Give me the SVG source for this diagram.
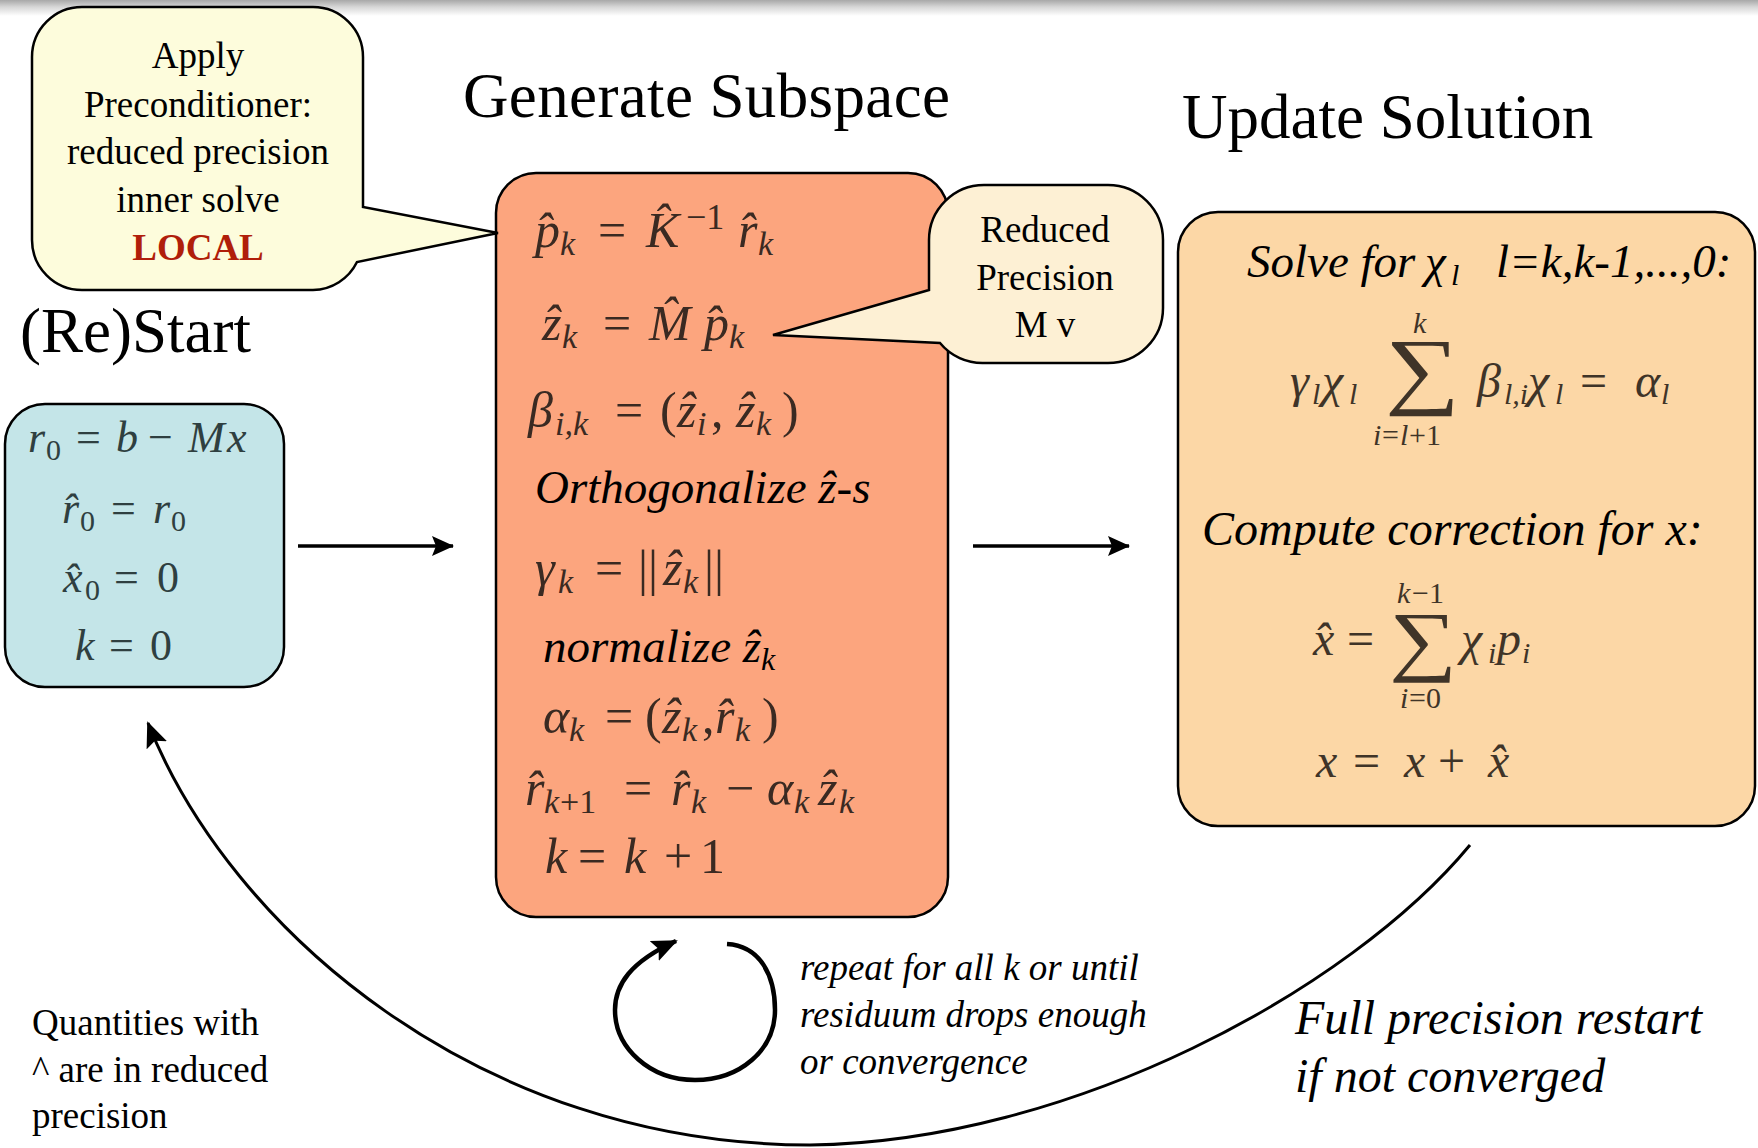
<svg xmlns="http://www.w3.org/2000/svg" width="1758" height="1148" viewBox="0 0 1758 1148">
<defs>
<linearGradient id="topbar" x1="0" y1="0" x2="0" y2="1">
<stop offset="0" stop-color="#a8a8a8"/>
<stop offset="0.45" stop-color="#d8d8d8"/>
<stop offset="1" stop-color="#ffffff"/>
</linearGradient>
<marker id="ah" viewBox="0 0 22 20" refX="21" refY="10" markerWidth="22" markerHeight="20" markerUnits="userSpaceOnUse" orient="auto">
<path d="M0,0 L22,10 L0,20 L4,10 Z" fill="#000"/>
</marker>
<marker id="ah2" viewBox="0 0 26 22" refX="24" refY="11" markerWidth="26" markerHeight="22" markerUnits="userSpaceOnUse" orient="auto">
<path d="M0,0 L26,11 L0,22 L5,11 Z" fill="#000"/>
</marker>
</defs>
<style>
.t{font-family:"Liberation Serif","Times New Roman",serif;fill:#000}
.title{font-size:63px}
.call{font-size:37px;text-anchor:middle}
.it{font-style:italic;font-size:47px}
.it48{font-style:italic;font-size:48px}
.note{font-size:37px}
.m{font-family:"Liberation Serif","Times New Roman",serif;font-style:italic;font-size:50px}
.mo{fill:#3a2a22}
.mb{fill:#2f3f40;font-size:44px}
.mr{fill:#3f3428;font-size:48px}
.n{font-style:normal}
.sb{font-size:34px}
.sm{font-size:30px}
.sig{font-family:"Liberation Serif","Times New Roman",serif;font-style:normal;fill:#3f3428}
.box{stroke:#000;stroke-width:2.5}
.conn{fill:none;stroke:#000}
</style>
<rect x="0" y="0" width="1758" height="1148" fill="#fff"/>
<rect x="0" y="0" width="1758" height="16" fill="url(#topbar)"/>

<g id="title-generate"><text class="t title" x="463" y="117" textLength="487" lengthAdjust="spacing">Generate Subspace</text></g>
<g id="title-update"><text class="t title" x="1182" y="138">Update Solution</text></g>
<g id="title-restart"><text class="t title" x="20" y="352">(Re)Start</text></g>

<g id="restart-box">
<rect class="box" x="5" y="404" width="279" height="283" rx="40" fill="#c4e5e8"/>
<text class="m mb"><tspan x="28" y="452">r</tspan><tspan class="n sm" x="46" y="460">0</tspan><tspan class="n" x="76" y="452">=</tspan><tspan x="116" y="452">b</tspan><tspan class="n" x="148" y="452">−</tspan><tspan x="188" y="452">M</tspan><tspan x="227" y="452">x</tspan></text>
<text class="m mb"><tspan x="62" y="523">r̂</tspan><tspan class="n sm" x="80" y="531">0</tspan><tspan class="n" x="111" y="523">=</tspan><tspan x="153" y="523">r</tspan><tspan class="n sm" x="171" y="531">0</tspan></text>
<text class="m mb"><tspan x="63" y="592">x̂</tspan><tspan class="n sm" x="85" y="600">0</tspan><tspan class="n" x="114" y="592">=</tspan><tspan class="n" x="157" y="592">0</tspan></text>
<text class="m mb"><tspan x="75" y="660">k</tspan><tspan class="n" x="109" y="660">=</tspan><tspan class="n" x="150" y="660">0</tspan></text>
</g>

<g id="subspace-box">
<rect class="box" x="496" y="173" width="452" height="744" rx="40" fill="#fca57e"/>
<text class="m mo"><tspan x="535" y="247">p̂</tspan><tspan class="sb" x="560" y="255">k</tspan><tspan class="n" x="598" y="247">=</tspan><tspan x="646" y="247">K̂</tspan><tspan class="n" x="686" y="229" style="font-size:36px">−1</tspan><tspan x="738" y="247">r̂</tspan><tspan class="sb" x="758" y="255">k</tspan></text>
<text class="m mo"><tspan x="542" y="340">ẑ</tspan><tspan class="sb" x="562" y="348">k</tspan><tspan class="n" x="603" y="340">=</tspan><tspan x="649" y="340">M̂</tspan><tspan x="704" y="340">p̂</tspan><tspan class="sb" x="729" y="348">k</tspan></text>
<text class="m mo"><tspan x="528" y="427">β</tspan><tspan class="sb" x="555" y="435">i,k</tspan><tspan class="n" x="615" y="427">=</tspan><tspan class="n" x="660" y="427">(</tspan><tspan x="677" y="427">ẑ</tspan><tspan class="sb" x="697" y="435">i</tspan><tspan class="n" x="711" y="427">,</tspan><tspan x="736" y="427">ẑ</tspan><tspan class="sb" x="756" y="435">k</tspan><tspan class="n" x="782" y="427">)</tspan></text>
<text class="t it" x="535" y="503">Orthogonalize ẑ-s</text>
<text class="m mo"><tspan x="535" y="585">γ</tspan><tspan class="sb" x="558" y="593">k</tspan><tspan class="n" x="595" y="585">=</tspan><tspan class="n" x="638" y="585">||</tspan><tspan x="663" y="585">ẑ</tspan><tspan class="sb" x="683" y="593">k</tspan><tspan class="n" x="704" y="585">||</tspan></text>
<text class="t it" x="543" y="662">normalize ẑ<tspan style="font-size:32px" dy="8">k</tspan></text>
<text class="m mo"><tspan x="543" y="733">α</tspan><tspan class="sb" x="569" y="741">k</tspan><tspan class="n" x="605" y="733">=</tspan><tspan class="n" x="645" y="733">(</tspan><tspan x="662" y="733">ẑ</tspan><tspan class="sb" x="682" y="741">k</tspan><tspan class="n" x="702" y="733">,</tspan><tspan x="715" y="733">r̂</tspan><tspan class="sb" x="735" y="741">k</tspan><tspan class="n" x="762" y="733">)</tspan></text>
<text class="m mo"><tspan x="525" y="805">r̂</tspan><tspan class="sb" x="544" y="813">k</tspan><tspan class="n sb" x="560" y="813">+1</tspan><tspan class="n" x="624" y="805">=</tspan><tspan x="671" y="805">r̂</tspan><tspan class="sb" x="691" y="813">k</tspan><tspan class="n" x="726" y="805">−</tspan><tspan x="767" y="805">α</tspan><tspan class="sb" x="794" y="813">k</tspan><tspan x="818" y="805">ẑ</tspan><tspan class="sb" x="839" y="813">k</tspan></text>
<text class="m mo"><tspan x="545" y="873">k</tspan><tspan class="n" x="578" y="873">=</tspan><tspan x="624" y="873">k</tspan><tspan class="n" x="664" y="873">+</tspan><tspan class="n" x="700" y="873">1</tspan></text>
</g>

<g id="update-box">
<rect class="box" x="1178" y="212" width="577" height="614" rx="40" fill="#fcd7a6"/>
<text class="t it" x="1247" y="277">Solve for <tspan x="1425">χ</tspan><tspan style="font-size:30px" x="1451" dy="8">l</tspan><tspan x="1496" dy="-8">l=k,k-1,...,0:</tspan></text>
<text class="m mr"><tspan x="1290" y="397">γ</tspan><tspan class="sm" x="1312" y="404">l</tspan><tspan x="1322" y="397">χ</tspan><tspan class="sm" x="1349" y="404">l</tspan><tspan class="sm" x="1413" y="333">k</tspan><tspan class="sm" x="1373" y="445">i</tspan><tspan class="n sm" x="1382" y="445">=</tspan><tspan class="sm" x="1400" y="445">l</tspan><tspan class="n sm" x="1409" y="445">+1</tspan><tspan x="1477" y="397">β</tspan><tspan class="sm" x="1504" y="404">l,i</tspan><tspan x="1528" y="397">χ</tspan><tspan class="sm" x="1555" y="404">l</tspan><tspan class="n" x="1580" y="397">=</tspan><tspan x="1635" y="397">α</tspan><tspan class="sm" x="1661" y="404">l</tspan></text>
<text class="sig" transform="translate(1385,398) scale(1.22,1)" style="font-size:86px">∑</text>
<text class="t it48" x="1202" y="545">Compute correction for x:</text>
<text class="m mr"><tspan x="1313" y="655">x̂</tspan><tspan class="n" x="1347" y="655">=</tspan><tspan class="sm" x="1397" y="603">k</tspan><tspan class="n sm" x="1412" y="603">−1</tspan><tspan class="sm" x="1400" y="708">i</tspan><tspan class="n sm" x="1409" y="708">=0</tspan><tspan x="1461" y="655">χ</tspan><tspan class="sm" x="1488" y="663">i</tspan><tspan x="1497" y="655">p</tspan><tspan class="sm" x="1522" y="663">i</tspan></text>
<text class="sig" transform="translate(1389,666) scale(1.22,1)" style="font-size:78px">∑</text>
<text class="m mr"><tspan x="1316" y="777">x</tspan><tspan class="n" x="1353" y="777">=</tspan><tspan x="1404" y="777">x</tspan><tspan class="n" x="1438" y="777">+</tspan><tspan x="1488" y="777">x̂</tspan></text>
</g>

<g id="callout-precond">
<path class="box" fill="#fdfcdc" d="M82,7 H313 A50,50 0 0 1 363,57 V207 L498,233 L357,262 A50,50 0 0 1 313,290 H82 A50,50 0 0 1 32,240 V57 A50,50 0 0 1 82,7 Z"/>
<text class="t call" x="198" y="68">Apply</text>
<text class="t call" x="198" y="117">Preconditioner:</text>
<text class="t call" x="198" y="164">reduced precision</text>
<text class="t call" x="198" y="212">inner solve</text>
<text class="t call" x="198" y="260" style="font-weight:bold;fill:#b01e0a">LOCAL</text>
</g>

<g id="callout-reduced">
<path class="box" fill="#fdf0d4" d="M984,185 H1108 A55,55 0 0 1 1163,240 V308 A55,55 0 0 1 1108,363 H984 A55,55 0 0 1 940,343 L773,335 L929,290 V240 A55,55 0 0 1 984,185 Z"/>
<text class="t call" x="1045" y="242">Reduced</text>
<text class="t call" x="1045" y="290">Precision</text>
<text class="t call" x="1045" y="337">M v</text>
</g>

<g id="connectors">
<line class="conn" x1="298" y1="546" x2="453" y2="546" stroke-width="3.5" marker-end="url(#ah)"/>
<line class="conn" x1="973" y1="546" x2="1129" y2="546" stroke-width="3.5" marker-end="url(#ah)"/>
<path class="conn" stroke-width="4.5" d="M727,944 C760,946 775,975 775,1010 C775,1050 740,1080 695,1080 C650,1080 615,1048 615,1010 C615,985 630,962 676,941" marker-end="url(#ah2)"/>
<path class="conn" stroke-width="3" d="M1470,845 C1350,990 1070,1142 810,1145 C480,1145 230,930 148,723" marker-end="url(#ah2)"/>
</g>

<g id="label-repeat">
<text class="t note" style="font-style:italic" x="800" y="980">repeat for all k or until</text>
<text class="t note" style="font-style:italic" x="800" y="1027">residuum drops enough</text>
<text class="t note" style="font-style:italic" x="800" y="1074">or convergence</text>
</g>
<g id="label-restart">
<text class="t it48" x="1295" y="1034">Full precision restart</text>
<text class="t it48" x="1295" y="1092">if not converged</text>
</g>
<g id="label-note">
<text class="t note" x="32" y="1035">Quantities with</text>
<text class="t note" x="32" y="1082">^ are in reduced</text>
<text class="t note" x="32" y="1128">precision</text>
</g>
</svg>
